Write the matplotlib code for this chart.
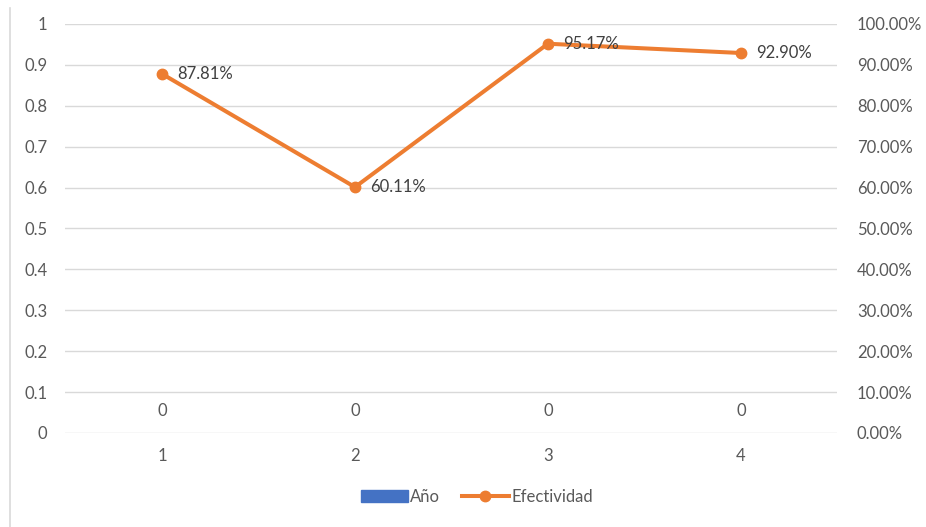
import matplotlib.pyplot as plt
from matplotlib.lines import Line2D
from matplotlib.patches import Patch
from matplotlib.ticker import FuncFormatter, PercentFormatter, MultipleLocator

categories = ["1", "2", "3", "4"]
anio = [0, 0, 0, 0]
efectividad = [0.8781, 0.6011, 0.9517, 0.9290]

BLUE = "#4472C4"
ORANGE = "#ED7D31"
GRID = "#D9D9D9"
TEXT = "#595959"
FS = 12

plt.rcParams["font.family"] = ["Lato", "DejaVu Sans"]

fig = plt.figure(figsize=(9.26, 5.27), dpi=100)
ax = fig.add_axes([0.0707, 0.1784, 0.8337, 0.7761])
ax2 = ax.twinx()

x = list(range(len(categories)))

# bars on the primary axis (all zero, only their labels show)
ax.bar(x, anio, width=0.5, color=BLUE, zorder=2)
for xi, v in zip(x, anio):
    ax.annotate(f"{v:g}", (xi, v), xytext=(0, 16), textcoords="offset points",
                ha="center", va="center", fontsize=FS, color=TEXT)

ax.set_xlim(-0.5, len(categories) - 0.5)
ax.set_ylim(0, 1)
ax.yaxis.set_major_locator(MultipleLocator(0.1))
ax.yaxis.set_major_formatter(FuncFormatter(lambda v, _: f"{round(v, 1):g}"))
ax.set_xticks(x)
ax.set_xticklabels(categories)
ax.grid(True, axis="y", color=GRID, linewidth=1.0, zorder=0)
ax.set_axisbelow(True)
ax.tick_params(axis="both", length=0, colors=TEXT, labelsize=FS)
ax.tick_params(axis="x", pad=11)
ax.tick_params(axis="y", pad=13)

# efectividad line on the secondary axis
ax2.plot(x, efectividad, color=ORANGE, linewidth=2.9, marker="o",
         markersize=7.5, zorder=3)
for xi, v in zip(x, efectividad):
    ax2.annotate(f"{v * 100:.2f}%", (xi, v), xytext=(11, 0),
                 textcoords="offset points", ha="left", va="center",
                 fontsize=FS, color="#404040")
ax2.set_ylim(0, 1)
ax2.yaxis.set_major_locator(MultipleLocator(0.1))
ax2.yaxis.set_major_formatter(PercentFormatter(1, decimals=2))
ax2.tick_params(axis="y", length=0, colors=TEXT, labelsize=FS, pad=14)

for a in (ax, ax2):
    for s in a.spines.values():
        s.set_visible(False)

# chart border on the left edge
fig.add_artist(Line2D([0.011, 0.011], [0.0, 0.985], transform=fig.transFigure,
                      color="#D9D9D9", linewidth=1.2))

handles = [
    Patch(color=BLUE),
    Line2D([0], [0], color=ORANGE, linewidth=2.9, marker="o", markersize=7.5),
]
fig.legend(handles, ["Año", "Efectividad"], loc="center",
           bbox_to_anchor=(0.515, 0.057), ncol=2, frameon=False,
           fontsize=FS, labelcolor=TEXT, handlelength=2.8,
           handletextpad=0.15, columnspacing=1.3)

fig.savefig("out.png", dpi=100)
